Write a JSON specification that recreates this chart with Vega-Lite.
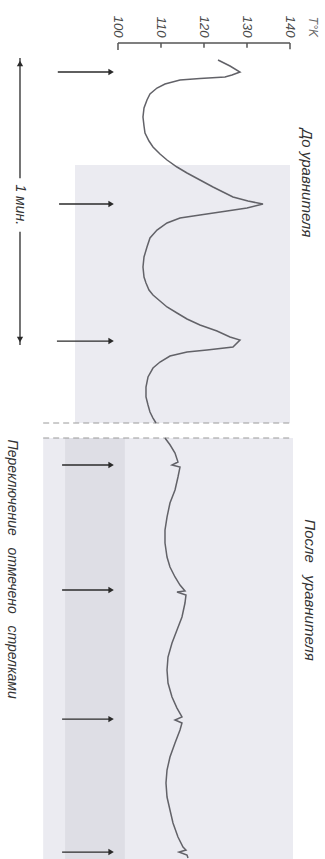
{
  "$schema": "https://vega.github.io/schema/vega-lite/v6.json",
  "width": 325,
  "height": 816,
  "autosize": {"type": "none"},
  "padding": {"left": 0, "right": 0, "top": 43, "bottom": 0},
  "background": "white",
  "config": {"view": {"stroke": null}, "font": "Liberation Sans"},
  "datasets": {
    "bg": [
      {"T": 90.0, "T2": 140.0, "t": 25.7, "t2": 80.1, "tone": "light"},
      {"T": 82.6, "T2": 140.7, "t": 83.26, "t2": 172, "tone": "light"},
      {"T": 87.7, "T2": 101.6, "t": 83.26, "t2": 172, "tone": "dark"}
    ],
    "sep": [
      {"T": 82.6, "T2": 140.7, "t": 80.1},
      {"T": 82.6, "T2": 140.7, "t": 83.26}
    ],
    "axisline": [{"T": 100, "T2": 140, "t": 0}],
    "ticks": [
      {"T": 100, "t": 0, "t2": 1.5},
      {"T": 110, "t": 0, "t2": 1.0},
      {"T": 120, "t": 0, "t2": 1.0},
      {"T": 130, "t": 0, "t2": 1.0},
      {"T": 140, "t": 0, "t2": 1.3}
    ],
    "curve": [
      {"panel": "before", "T": 123.26, "t": 3.58},
      {"panel": "before", "T": 126.05, "t": 4.85},
      {"panel": "before", "T": 128.37, "t": 6.11},
      {"panel": "before", "T": 126.51, "t": 6.75},
      {"panel": "before", "T": 124.88, "t": 7.17},
      {"panel": "before", "T": 119.07, "t": 7.48},
      {"panel": "before", "T": 114.42, "t": 7.8},
      {"panel": "before", "T": 110.93, "t": 8.64},
      {"panel": "before", "T": 109.07, "t": 9.49},
      {"panel": "before", "T": 107.44, "t": 10.75},
      {"panel": "before", "T": 106.74, "t": 12.02},
      {"panel": "before", "T": 106.05, "t": 13.7},
      {"panel": "before", "T": 105.81, "t": 15.6},
      {"panel": "before", "T": 106.05, "t": 17.5},
      {"panel": "before", "T": 106.28, "t": 18.97},
      {"panel": "before", "T": 107.21, "t": 20.66},
      {"panel": "before", "T": 108.14, "t": 21.92},
      {"panel": "before", "T": 109.77, "t": 23.4},
      {"panel": "before", "T": 111.4, "t": 24.66},
      {"panel": "before", "T": 113.72, "t": 26.14},
      {"panel": "before", "T": 116.05, "t": 27.4},
      {"panel": "before", "T": 119.07, "t": 28.88},
      {"panel": "before", "T": 122.09, "t": 30.35},
      {"panel": "before", "T": 124.42, "t": 31.41},
      {"panel": "before", "T": 126.74, "t": 32.46},
      {"panel": "before", "T": 130.23, "t": 33.31},
      {"panel": "before", "T": 133.72, "t": 33.94},
      {"panel": "before", "T": 130.0, "t": 34.78},
      {"panel": "before", "T": 125.35, "t": 35.41},
      {"panel": "before", "T": 119.07, "t": 36.26},
      {"panel": "before", "T": 114.42, "t": 36.89},
      {"panel": "before", "T": 111.4, "t": 37.94},
      {"panel": "before", "T": 109.07, "t": 39.42},
      {"panel": "before", "T": 107.44, "t": 41.1},
      {"panel": "before", "T": 106.74, "t": 43.0},
      {"panel": "before", "T": 106.05, "t": 45.11},
      {"panel": "before", "T": 105.81, "t": 47.22},
      {"panel": "before", "T": 106.05, "t": 49.33},
      {"panel": "before", "T": 106.51, "t": 50.59},
      {"panel": "before", "T": 107.21, "t": 52.07},
      {"panel": "before", "T": 108.14, "t": 53.12},
      {"panel": "before", "T": 109.77, "t": 54.38},
      {"panel": "before", "T": 111.4, "t": 55.65},
      {"panel": "before", "T": 113.72, "t": 56.91},
      {"panel": "before", "T": 116.05, "t": 58.18},
      {"panel": "before", "T": 119.07, "t": 59.44},
      {"panel": "before", "T": 123.02, "t": 60.71},
      {"panel": "before", "T": 126.05, "t": 61.97},
      {"panel": "before", "T": 128.37, "t": 62.61},
      {"panel": "before", "T": 126.74, "t": 64.08},
      {"panel": "before", "T": 120.7, "t": 64.71},
      {"panel": "before", "T": 116.05, "t": 65.13},
      {"panel": "before", "T": 112.09, "t": 65.98},
      {"panel": "before", "T": 109.77, "t": 67.24},
      {"panel": "before", "T": 108.14, "t": 68.51},
      {"panel": "before", "T": 106.98, "t": 70.4},
      {"panel": "before", "T": 106.51, "t": 72.51},
      {"panel": "before", "T": 106.51, "t": 74.62},
      {"panel": "before", "T": 106.98, "t": 76.31},
      {"panel": "before", "T": 107.44, "t": 77.78},
      {"panel": "before", "T": 108.14, "t": 79.05},
      {"panel": "before", "T": 108.84, "t": 80.1},
      {"panel": "after", "T": 110.93, "t": 83.26},
      {"panel": "after", "T": 112.09, "t": 84.69},
      {"panel": "after", "T": 113.26, "t": 86.42},
      {"panel": "after", "T": 113.95, "t": 88.32},
      {"panel": "after", "T": 112.56, "t": 88.95},
      {"panel": "after", "T": 114.42, "t": 89.38},
      {"panel": "after", "T": 113.95, "t": 91.48},
      {"panel": "after", "T": 113.26, "t": 94.22},
      {"panel": "after", "T": 112.09, "t": 96.96},
      {"panel": "after", "T": 111.4, "t": 99.92},
      {"panel": "after", "T": 110.93, "t": 102.66},
      {"panel": "after", "T": 110.93, "t": 105.4},
      {"panel": "after", "T": 111.4, "t": 108.35},
      {"panel": "after", "T": 112.09, "t": 110.45},
      {"panel": "after", "T": 113.26, "t": 112.56},
      {"panel": "after", "T": 114.42, "t": 114.25},
      {"panel": "after", "T": 115.58, "t": 115.51},
      {"panel": "after", "T": 113.72, "t": 115.73},
      {"panel": "after", "T": 115.81, "t": 116.36},
      {"panel": "after", "T": 115.58, "t": 118.04},
      {"panel": "after", "T": 114.88, "t": 120.99},
      {"panel": "after", "T": 113.72, "t": 123.73},
      {"panel": "after", "T": 112.56, "t": 126.48},
      {"panel": "after", "T": 111.63, "t": 129.43},
      {"panel": "after", "T": 111.4, "t": 132.17},
      {"panel": "after", "T": 111.63, "t": 134.91},
      {"panel": "after", "T": 112.56, "t": 137.86},
      {"panel": "after", "T": 113.72, "t": 140.18},
      {"panel": "after", "T": 114.88, "t": 142.07},
      {"panel": "after", "T": 113.26, "t": 142.71},
      {"panel": "after", "T": 114.88, "t": 143.34},
      {"panel": "after", "T": 114.42, "t": 144.81},
      {"panel": "after", "T": 113.26, "t": 147.55},
      {"panel": "after", "T": 112.09, "t": 150.51},
      {"panel": "after", "T": 111.4, "t": 153.25},
      {"panel": "after", "T": 111.16, "t": 155.99},
      {"panel": "after", "T": 111.4, "t": 158.94},
      {"panel": "after", "T": 112.09, "t": 161.68},
      {"panel": "after", "T": 112.79, "t": 164.42},
      {"panel": "after", "T": 113.95, "t": 167.37},
      {"panel": "after", "T": 115.12, "t": 169.48},
      {"panel": "after", "T": 115.81, "t": 170.11},
      {"panel": "after", "T": 114.19, "t": 170.53},
      {"panel": "after", "T": 116.05, "t": 171.16},
      {"panel": "after", "T": 116.28, "t": 171.8}
    ],
    "arrows": [
      {"T": 86.0, "T2": 98.0, "t": 6.11},
      {"T": 86.3, "T2": 98.0, "t": 33.94},
      {"T": 85.8, "T2": 98.0, "t": 62.82},
      {"T": 87.0, "T2": 98.0, "t": 88.95},
      {"T": 87.0, "T2": 98.0, "t": 115.3},
      {"T": 87.0, "T2": 98.0, "t": 142.5},
      {"T": 87.0, "T2": 98.0, "t": 170.53}
    ],
    "arrowHeads": [
      {"T": 98.4, "t": 6.11},
      {"T": 98.4, "t": 33.94},
      {"T": 98.4, "t": 62.82},
      {"T": 98.4, "t": 88.95},
      {"T": 98.4, "t": 115.3},
      {"T": 98.4, "t": 142.5},
      {"T": 98.4, "t": 170.53}
    ],
    "minute": [
      {"T": 77.21, "t": 3.16, "t2": 28.5},
      {"T": 77.21, "t": 39.8, "t2": 63.66}
    ],
    "minuteHeads": [
      {"T": 77.21, "t": 4.3, "dir": "up"},
      {"T": 77.21, "t": 62.5, "dir": "down"}
    ],
    "panelTitles": [
      {"T": 144.0, "t": 29.5, "label": "До уравнителя"},
      {"T": 144.6, "t": 115.3, "label": "После\u00a0\u00a0\u00a0уравнителя"}
    ],
    "notes": [
      {"T": 75.4, "t": 110.9, "label": "Переключение\u00a0\u00a0\u00a0отмечено\u00a0\u00a0\u00a0стрелками"}
    ],
    "minuteLabel": [
      {"T": 77.2, "t": 34.1, "label": "1 мин."}
    ],
    "unit": [{"T": 145.4, "t": -3.4, "label": "T°K"}]
  },
  "encoding": {
    "x": {
      "field": "T",
      "type": "quantitative",
      "scale": {"domain": [72.56, 148.14], "nice": false, "zero": false},
      "axis": {
        "orient": "top",
        "values": [100, 110, 120, 130, 140],
        "format": "d",
        "title": null,
        "domain": false,
        "ticks": false,
        "grid": false,
        "labelAngle": 90,
        "labelAlign": "right",
        "labelBaseline": "middle",
        "labelPadding": 6,
        "labelFontSize": 13,
        "labelFontStyle": "italic",
        "labelColor": "#4a4a4a",
        "labelOverlap": false,
        "labelFlush": false
      }
    },
    "y": {
      "field": "t",
      "type": "quantitative",
      "scale": {"domain": [0, 172], "nice": false, "zero": false, "reverse": true},
      "axis": null
    }
  },
  "layer": [
    {
      "data": {"name": "bg"},
      "mark": {"type": "rect"},
      "encoding": {
        "x2": {"field": "T2"},
        "y2": {"field": "t2"},
        "color": {
          "field": "tone",
          "type": "nominal",
          "scale": {"domain": ["light", "dark"], "range": ["#ebebf1", "#dedee5"]},
          "legend": null
        }
      }
    },
    {
      "data": {"name": "sep"},
      "mark": {"type": "rule", "color": "#9a9a9a", "strokeDash": [6, 4], "strokeWidth": 1},
      "encoding": {"x2": {"field": "T2"}}
    },
    {
      "data": {"name": "axisline"},
      "mark": {"type": "rule", "color": "#555555", "strokeWidth": 1.5},
      "encoding": {"x2": {"field": "T2"}}
    },
    {
      "data": {"name": "ticks"},
      "mark": {"type": "rule", "color": "#555555", "strokeWidth": 1.5},
      "encoding": {"y2": {"field": "t2"}}
    },
    {
      "data": {"name": "curve"},
      "mark": {"type": "line", "color": "#626268", "strokeWidth": 1.5, "interpolate": "linear"},
      "encoding": {
        "detail": {"field": "panel", "type": "nominal"},
        "order": {"field": "t", "type": "quantitative"}
      }
    },
    {
      "data": {"name": "arrows"},
      "mark": {"type": "rule", "color": "#2a2a2a", "strokeWidth": 1.3},
      "encoding": {"x2": {"field": "T2"}}
    },
    {
      "data": {"name": "arrowHeads"},
      "mark": {"type": "point", "shape": "triangle-right", "filled": true, "color": "#2a2a2a", "size": 40, "opacity": 1}
    },
    {
      "data": {"name": "minute"},
      "mark": {"type": "rule", "color": "#2a2a2a", "strokeWidth": 1.3},
      "encoding": {"y2": {"field": "t2"}}
    },
    {
      "data": {"name": "minuteHeads"},
      "mark": {"type": "point", "filled": true, "color": "#2a2a2a", "size": 40, "opacity": 1},
      "encoding": {
        "shape": {
          "field": "dir",
          "type": "nominal",
          "scale": {"domain": ["up", "down"], "range": ["triangle-up", "triangle-down"]},
          "legend": null
        }
      }
    },
    {
      "data": {"name": "panelTitles"},
      "mark": {"type": "text", "angle": 90, "align": "center", "baseline": "middle", "fontSize": 15, "fontStyle": "italic", "color": "#333333"},
      "encoding": {"text": {"field": "label"}}
    },
    {
      "data": {"name": "notes"},
      "mark": {"type": "text", "angle": 90, "align": "center", "baseline": "middle", "fontSize": 14, "fontStyle": "italic", "color": "#333333"},
      "encoding": {"text": {"field": "label"}}
    },
    {
      "data": {"name": "minuteLabel"},
      "mark": {"type": "text", "angle": 90, "align": "center", "baseline": "middle", "fontSize": 14, "fontStyle": "italic", "color": "#333333"},
      "encoding": {"text": {"field": "label"}}
    },
    {
      "data": {"name": "unit"},
      "mark": {"type": "text", "angle": 90, "align": "center", "baseline": "middle", "fontSize": 12, "fontStyle": "italic", "color": "#666666"},
      "encoding": {"text": {"field": "label"}}
    }
  ]
}
